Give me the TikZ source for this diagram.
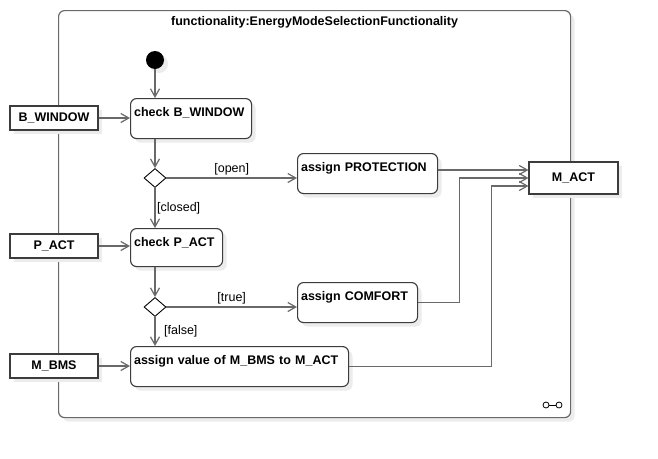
\documentclass[tikz,border=0pt]{standalone}
\usepackage{fontspec}
\setmainfont{Liberation Sans}
\usetikzlibrary{positioning, arrows.meta, shadows, shapes.geometric}
\definecolor{linegray}{RGB}{105,105,105}
\definecolor{boxgray}{RGB}{60,60,60}
\definecolor{shadowgray}{RGB}{236,236,236}

\begin{document}
\begin{tikzpicture}[x=1pt, y=-1pt,
  shade/.style={drop shadow={shadow xshift=4pt, shadow yshift=-4pt, fill=shadowgray, opacity=1}},
  act/.style={draw=boxgray, line width=1.1pt, rounded corners=6pt, fill=white, shade,
              anchor=north west, align=left, font=\bfseries\fontsize{12.5}{15}\selectfont,
              inner xsep=3.5pt, inner ysep=4pt, text height=14pt, text depth=18pt},
  pin/.style={draw=boxgray, line width=1.1pt, fill=white, shade, minimum width=88pt,
              minimum height=24pt, inner sep=0pt, font=\bfseries\fontsize{12.5}{15}\selectfont},
  dec/.style={diamond, draw=black, fill=white, minimum width=22pt, minimum height=19pt,
              inner sep=0pt, line width=0.9pt},
  flow/.style={draw=linegray, line width=1.2pt, -{Straight Barb[length=8pt,width=9pt]}},
  guard/.style={font=\fontsize{12.5}{15}\selectfont, inner sep=1.5pt}
]
  \useasboundingbox (0,0) rectangle (658,458);
  % frame
  \node[draw=linegray, line width=1.2pt, rounded corners=6pt, fill=white, shade, anchor=north west,
        minimum width=512pt, minimum height=407pt, inner sep=0pt] (func) at (58,10) {};
  \node[font=\bfseries\fontsize{12.5}{15}\selectfont, anchor=north] (title) at ([yshift=-3pt]func.north)
        {functionality:EnergyModeSelectionFunctionality};
  % actions
  \node[circle, fill=black, minimum size=18pt, inner sep=0pt, shade] (start) at (155,60) {};
  \node[act, text width=114pt] (chkwin) at (130,98) {check B\_WINDOW};
  \node[dec] (d1) at (155,178) {};
  \node[act, text width=133pt] (prot) at (297,153) {assign PROTECTION};
  \node[act, text width=85pt, text depth=16pt] (chkpact) at (130,228) {check P\_ACT};
  \node[dec] (d2) at (155,307) {};
  \node[act, text width=113pt] (comf) at (297,282) {assign COMFORT};
  \node[act, text width=211pt] (asgval) at (130,346) {assign value of M\_BMS to M\_ACT};
  % pins
  \node[pin] (pwin) at (54,118) {B\_WINDOW};
  \node[pin] (ppact) at (54,246) {P\_ACT};
  \node[pin] (pbms) at (54,366) {M\_BMS};
  \node[pin, minimum width=89pt, minimum height=32pt] (pmact) at (573.5,178) {M\_ACT};
  \coordinate (in1) at ([yshift=8pt]pmact.west);
  \coordinate (in2) at (pmact.west);
  \coordinate (in3) at ([yshift=-8pt]pmact.west);
  % flows
  \draw[flow] (start) -- (start |- chkwin.north);
  \draw[flow] (d1 |- chkwin.south) -- (d1.north);
  \draw[flow] (d1.east) -- node[guard, above=1pt] {[open]} (d1 -| prot.west);
  \draw[flow] (d1.south) -- node[guard, right] {[closed]} (d1 |- chkpact.north);
  \draw[flow] (d2 |- chkpact.south) -- (d2.north);
  \draw[flow] (d2.east) -- node[guard, above=1pt] {[true]} (d2 -| comf.west);
  \draw[flow] (d2.south) -- node[guard, right, xshift=7pt] {[false]} (d2 |- asgval.north);
  \draw[flow] (pwin.east) -- (pwin -| chkwin.west);
  \draw[flow] (ppact.east) -- (ppact -| chkpact.west);
  \draw[flow] (pbms.east) -- (pbms -| asgval.west);
  \draw[flow] (prot.east |- in1) -- (in1);
  \draw[flow] (comf.east) -- ++(41,0) |- (in2);
  \draw[flow] (asgval.east) -- ++(142,0) |- (in3);
  % stereotype icon
  \node[circle, draw=black, line width=0.8pt, minimum size=6pt, inner sep=0pt] (ca) at (546,405) {};
  \node[circle, draw=black, line width=0.8pt, minimum size=6pt, inner sep=0pt] (cb) at (559,405) {};
  \draw[line width=0.8pt] (ca) -- (cb);
\end{tikzpicture}
\end{document}
